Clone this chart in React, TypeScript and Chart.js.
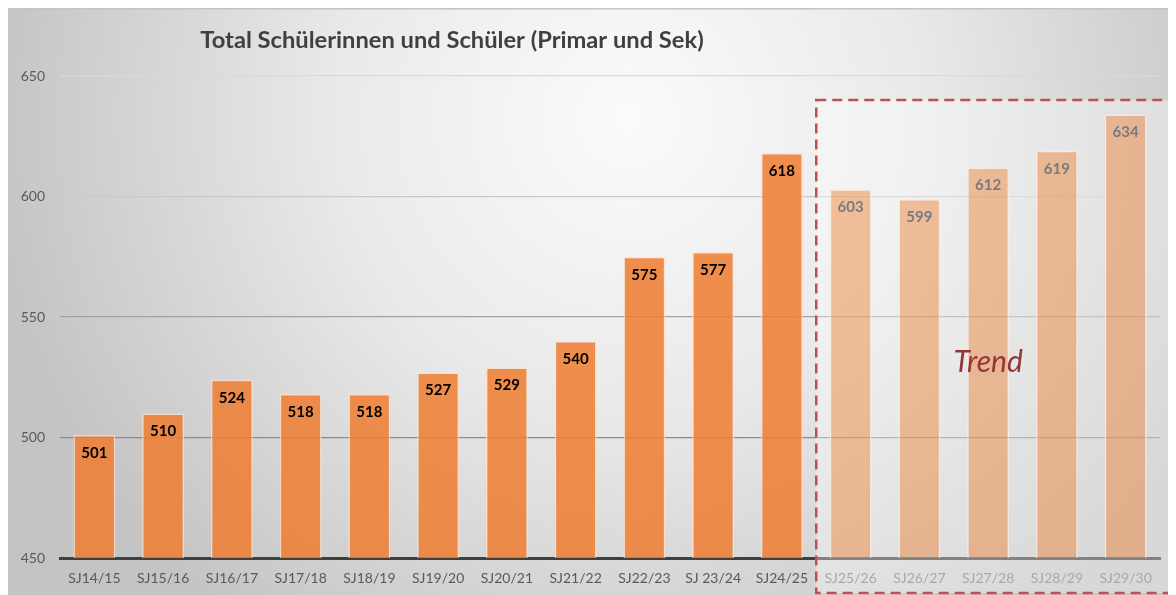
import React, { useEffect, useRef } from "react";
import { Chart, registerables } from "chart.js";

Chart.register(...registerables);

const categories = [
  "SJ14/15", "SJ15/16", "SJ16/17", "SJ17/18", "SJ18/19", "SJ19/20", "SJ20/21",
  "SJ21/22", "SJ22/23", "SJ 23/24", "SJ24/25", "SJ25/26", "SJ26/27", "SJ27/28",
  "SJ28/29", "SJ29/30",
];
const students = [501, 510, 524, 518, 518, 527, 529, 540, 575, 577, 618, 603, 599, 612, 619, 634];
const trendStartIndex = 11;
const yTicks = [450, 500, 550, 600, 650];
const titleText = "Total Schülerinnen und Schüler (Primar und Sek)";
const trendLabel = "Trend";

const FONT = "Lato, 'Open Sans', sans-serif";

const isTrend = (i: number) => i >= trendStartIndex;

const bgPlugin = {
  id: "bg",
  beforeDraw(chart: any) {
    const { ctx, width, height } = chart;
    ctx.save();
    const g = ctx.createRadialGradient(620, 110, 0, 620, 110, 640);
    g.addColorStop(0, "#fbfbfb");
    g.addColorStop(0.45, "#eaeaea");
    g.addColorStop(1, "#c4c4c4");
    ctx.fillStyle = g;
    ctx.fillRect(0, 0, width, height);
    ctx.fillStyle = "#c4c4c4";
    ctx.fillRect(0, 0, width, 1.5);
    // title
    ctx.fillStyle = "#404040";
    ctx.font = `bold 23.7px ${FONT}`;
    ctx.textAlign = "center";
    ctx.textBaseline = "middle";
    ctx.fillText(titleText, 444, 32);
    ctx.restore();
  },
};

const boxRect = (chart: any) => {
  const x = chart.scales.x;
  const y = chart.scales.y;
  const left = (x.getPixelForValue(trendStartIndex - 1) + x.getPixelForValue(trendStartIndex)) / 2;
  const top = y.getPixelForValue(640);
  const right = chart.width - 4;
  const bottom = chart.height - 2;
  return { left, top, right, bottom };
};

const boxPlugin = {
  id: "trendBox",
  beforeDatasetsDraw(chart: any) {
    const { ctx } = chart;
    const r = boxRect(chart);
    ctx.save();
    ctx.fillStyle = "rgba(255,255,255,0.35)";
    ctx.fillRect(r.left, r.top, r.right - r.left, r.bottom - r.top);
    ctx.restore();
  },
  afterDraw(chart: any) {
    const { ctx } = chart;
    const r = boxRect(chart);
    ctx.save();
    ctx.strokeStyle = "#c0504d";
    ctx.lineWidth = 2.5;
    ctx.setLineDash([10, 6]);
    ctx.strokeRect(r.left, r.top, r.right - r.left, r.bottom - r.top);
    const x = chart.scales.x;
    const y = chart.scales.y;
    ctx.fillStyle = "#943634";
    ctx.font = `italic 30px ${FONT}`;
    ctx.textAlign = "center";
    ctx.textBaseline = "middle";
    ctx.fillText(trendLabel, x.getPixelForValue(13), y.getPixelForValue(531));
    ctx.restore();
  },
};

const labelPlugin = {
  id: "barLabels",
  afterDatasetsDraw(chart: any) {
    const { ctx } = chart;
    const meta = chart.getDatasetMeta(0);
    ctx.save();
    ctx.font = `bold 15px ${FONT}`;
    ctx.textAlign = "center";
    ctx.textBaseline = "middle";
    meta.data.forEach((bar: any, i: number) => {
      ctx.fillStyle = isTrend(i) ? "#7a7a7a" : "#000000";
      ctx.fillText(String(students[i]), bar.x, bar.y + 18);
    });
    ctx.restore();
  },
};

const gridColor = (v: number) => {
  if (v === 650) return "#d9d9d9";
  if (v === 600) return "#c9c9c9";
  if (v === 550) return "#a3a3a3";
  if (v === 500) return "#8c8c8c";
  return "rgba(0,0,0,0)";
};

export default function App() {
  const ref = useRef<HTMLCanvasElement | null>(null);
  useEffect(() => {
    if (!ref.current) return;
    const chart = new Chart(ref.current, {
      type: "bar",
      data: {
        labels: categories,
        datasets: [
          {
            data: students,
            backgroundColor: students.map((_, i) =>
              isTrend(i) ? "rgba(237,125,49,0.45)" : "rgba(237,125,49,0.86)"
            ),
            borderColor: students.map((_, i) =>
              isTrend(i) ? "rgba(255,235,220,0.7)" : "rgba(255,225,200,0.7)"
            ),
            borderWidth: 1.5,
            borderSkipped: "bottom",
            categoryPercentage: 1,
            barPercentage: 0.61,
          },
        ],
      },
      options: {
        animation: false,
        responsive: false,
        maintainAspectRatio: false,
        layout: { padding: { top: 68, right: 16, left: 0, bottom: 0 } },
        plugins: {
          legend: { display: false },
          tooltip: { enabled: false },
          title: { display: false },
        },
        scales: {
          x: {
            grid: { display: false, drawTicks: false },
            border: { display: true, color: "#3f3f3f", width: 3 },
            ticks: {
              padding: 12,
              maxRotation: 0,
              autoSkip: false,
              font: { family: FONT, size: 14 },
              color: (c: any) => (isTrend(c.index) ? "#7a7a7a" : "#595959"),
            },
            afterFit: (s: any) => {
              s.height = 37;
            },
          },
          y: {
            min: 450,
            max: 650,
            afterBuildTicks: (s: any) => {
              s.ticks = yTicks.map((v) => ({ value: v }));
            },
            grid: {
              drawTicks: false,
              color: (c: any) => gridColor(c.tick && c.tick.value),
              lineWidth: 1.2,
            },
            border: { display: false },
            ticks: {
              padding: 15,
              font: { family: FONT, size: 14 },
              color: "#595959",
            },
            afterFit: (s: any) => {
              s.width = 52;
            },
          },
        },
      },
      plugins: [bgPlugin, boxPlugin, labelPlugin],
    });
    return () => chart.destroy();
  }, []);
  return (
    <canvas
      ref={ref}
      width={1168}
      height={587}
      style={{ display: "block", width: 1168, height: 587 }}
    />
  );
}
